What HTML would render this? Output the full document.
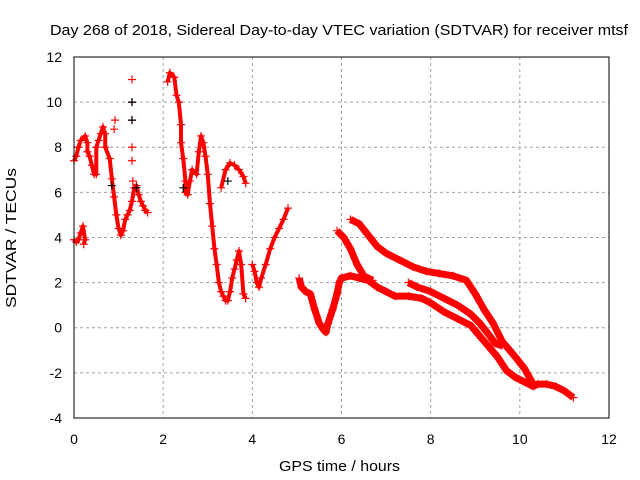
<!DOCTYPE html>
<html><head><meta charset="utf-8"><style>
html,body{margin:0;padding:0;background:#fff}
svg{display:block;font-family:"Liberation Sans",sans-serif}
</style></head><body>
<svg id="chart" width="640" height="480">
<rect width="640" height="480" fill="#fff"/>
<text x="50" y="35" font-size="15" textLength="578" lengthAdjust="spacingAndGlyphs">Day 268 of 2018, Sidereal Day-to-day VTEC variation (SDTVAR) for receiver mtsf</text>
<text x="279" y="471" font-size="15" textLength="121" lengthAdjust="spacingAndGlyphs">GPS time / hours</text>
<text transform="translate(16,308) rotate(-90)" font-size="15" textLength="140" lengthAdjust="spacingAndGlyphs">SDTVAR / TECUs</text>
<g id="grid"></g><g id="marks"></g>
<rect x="74" y="57" width="535" height="361" fill="none" stroke="#000" stroke-width="1"/>
</svg>
<script>
const xTicks=[0,2,4,6,8,10,12];
const yTicks=[-4,-2,0,2,4,6,8,10,12];
const seg0=[[0,3.9],[0.05,3.8],[0.1,3.9],[0.15,4.2],[0.2,4.5],[0.25,3.9],[0.22,3.7]];
const seg1=[[0,7.4],[0.05,7.6],[0.1,8.0],[0.15,8.3],[0.25,8.5],[0.3,8.2],[0.3,7.8],[0.35,7.6],[0.4,7.2],[0.45,6.8],[0.5,6.8],[0.5,8.0],[0.55,8.3],[0.6,8.6],[0.65,8.9],[0.7,8.6],[0.7,8.0],[0.8,7.5],[0.85,6.6],[0.9,5.8],[0.95,5.0],[1.0,4.4],[1.05,4.1],[1.1,4.3],[1.15,4.8],[1.2,5.0],[1.25,5.2],[1.3,5.6],[1.35,6.2],[1.4,6.3],[1.45,5.9],[1.5,5.6],[1.55,5.4],[1.6,5.2],[1.65,5.1]];
const seg2=[[0.9,8.8],[0.92,9.2],[1.3,11.0],[1.3,10.0],[1.3,9.2],[1.3,8.0],[1.3,7.4],[1.32,6.5]];
const seg3=[[2.1,10.9],[2.15,11.3],[2.25,11.1],[2.3,10.3],[2.35,10.0],[2.4,9.0],[2.4,8.2],[2.45,7.5],[2.5,6.5],[2.5,6.0],[2.55,5.9],[2.6,6.5],[2.65,7.0],[2.75,6.8],[2.8,7.8],[2.85,8.5],[2.9,8.2],[2.95,7.6],[3.0,6.8],[3.05,5.5],[3.1,4.5],[3.15,3.5],[3.2,2.8],[3.25,2.0],[3.3,1.6],[3.35,1.4],[3.4,1.2],[3.45,1.2],[3.5,1.6],[3.55,2.2],[3.6,2.6],[3.65,3.0],[3.7,3.4],[3.75,2.8],[3.8,1.5],[3.85,1.3]];
const seg4=[[3.3,6.2],[3.4,7.0],[3.5,7.3],[3.6,7.2],[3.7,7.0],[3.8,6.7],[3.85,6.4]];
const seg5=[[4.0,2.8],[4.05,2.5],[4.1,2.0],[4.15,1.8],[4.2,2.2],[4.3,2.8],[4.4,3.5],[4.5,4.0],[4.6,4.4],[4.7,4.8],[4.8,5.3]];
const seg6=[[5.05,2.2],[5.1,1.8],[5.2,1.6],[5.3,1.5],[5.4,0.8],[5.5,0.2],[5.6,-0.1],[5.65,-0.2],[5.7,0.2],[5.8,0.8],[5.9,1.5],[5.95,2.0],[6.0,2.2],[6.2,2.3],[6.4,2.2],[6.6,2.1],[6.8,1.8],[7.0,1.6],[7.2,1.4],[7.5,1.4],[7.8,1.3],[8.0,1.1],[8.3,0.7],[8.6,0.4],[8.9,0.1],[9.2,-0.6],[9.5,-1.3],[9.7,-1.9],[9.9,-2.2],[10.1,-2.4],[10.3,-2.6],[10.4,-2.5],[10.6,-2.5],[10.8,-2.6],[11.0,-2.8],[11.2,-3.1]];
const seg7=[[5.9,4.3],[6.05,4.0],[6.2,3.5],[6.35,2.8],[6.5,2.3],[6.7,2.1]];
const seg8=[[6.2,4.8],[6.4,4.6],[6.6,4.1],[6.8,3.6],[7.0,3.3],[7.3,3.0],[7.6,2.7],[7.9,2.5],[8.2,2.4],[8.5,2.3],[8.8,2.1],[9.0,1.5],[9.2,0.8],[9.4,0.2],[9.6,-0.6],[9.9,-1.3],[10.1,-1.8],[10.3,-2.5]];
const seg9=[[7.5,2.0],[7.7,1.8],[8.0,1.6],[8.3,1.3],[8.6,1.0],[8.9,0.6],[9.1,0.2],[9.3,-0.3],[9.45,-0.7],[9.6,-0.8]];
const blackPts=[[1.3,10.0],[1.3,9.2],[1.4,6.2],[2.45,6.2],[3.45,6.5],[0.85,6.3]];
const X=t=>74+t*44.583, Y=v=>327.7-v*22.56;
const NS='http://www.w3.org/2000/svg';
const grid=document.getElementById('grid'), marks=document.getElementById('marks');
xTicks.forEach(t=>{
  if(t>0&&t<12){const l=document.createElementNS(NS,'line');
  l.setAttribute('x1',X(t));l.setAttribute('x2',X(t));l.setAttribute('y1',57);l.setAttribute('y2',418);
  l.setAttribute('stroke','#a0a0a0');l.setAttribute('stroke-dasharray','3,3');
  
  grid.appendChild(l);}
  const tx=document.createElementNS(NS,'text');tx.setAttribute('x',X(t));tx.setAttribute('y',444);
  tx.setAttribute('text-anchor','middle');tx.setAttribute('font-size','14');tx.textContent=t;
  
  grid.appendChild(tx);
});
yTicks.forEach(v=>{
  if(v>-4&&v<12){const l=document.createElementNS(NS,'line');
  l.setAttribute('x1',74);l.setAttribute('x2',609);l.setAttribute('y1',Y(v));l.setAttribute('y2',Y(v));
  l.setAttribute('stroke','#a0a0a0');l.setAttribute('stroke-dasharray','3,3');
  
  grid.appendChild(l);}
  const tx=document.createElementNS(NS,'text');tx.setAttribute('x',62);tx.setAttribute('y',Y(v)+5);
  tx.setAttribute('text-anchor','end');tx.setAttribute('font-size','14');tx.textContent=v;
  
  grid.appendChild(tx);
});
function plus(t,v,c){const p=document.createElementNS(NS,'path');
  const x=X(t),y=Y(v);p.setAttribute('d',`M${x-4},${y}H${x+4}M${x},${y-4}V${y+4}`);
  p.setAttribute('stroke',c);p.setAttribute('stroke-width','1.2');
  
  marks.appendChild(p);}
[seg0,seg1,seg2,seg3,seg4,seg5,seg6,seg7,seg8,seg9].forEach((s,i)=>{
  if(i!==2){const pl=document.createElementNS(NS,'polyline');
  pl.setAttribute('points',s.map(d=>X(d[0])+','+Y(d[1])).join(' '));
  pl.setAttribute('fill','none');pl.setAttribute('stroke','#ff0000');pl.setAttribute('stroke-width',i>=6?'7':'4');
  pl.setAttribute('stroke-linejoin','round');
  
  marks.appendChild(pl);}
  s.forEach(d=>plus(d[0],d[1],'#ff0000'));
});
blackPts.forEach(d=>plus(d[0],d[1],'#000'));
</script>
</body></html>
